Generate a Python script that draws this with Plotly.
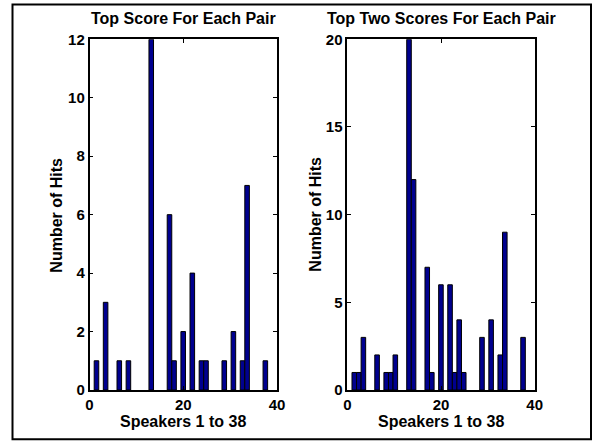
import plotly.graph_objects as go

# ---- data ----
speakers = list(range(1, 39))
top1_speakers = [1, 3, 6, 8, 13, 17, 18, 20, 22, 24, 25, 29, 31, 33, 34, 38]
top1_counts   = [1, 3, 1, 1, 12, 6, 1, 2, 4, 1, 1, 1, 2, 1, 7, 1]
top2_speakers = [1, 2, 3, 6, 8, 9, 10, 13, 14, 17, 18, 20, 22, 23, 24, 25, 29, 31, 33, 34, 38]
top2_counts   = [1, 1, 3, 2, 1, 1, 2, 20, 12, 7, 1, 6, 6, 1, 4, 1, 3, 4, 2, 9, 3]
titles = ["Top Score For Each Pair", "Top Two Scores For Each Pair"]
x_label = "Speakers 1 to 38"
y_label = "Number of Hits"
x_ticks = [0, 20, 40]
y_ticks_left = [0, 2, 4, 6, 8, 10, 12]
y_ticks_right = [0, 5, 10, 15, 20]

# histogram bins: 38 equal bins spanning speakers 1..38
n_bins = len(speakers)
bin_w = (max(speakers) - min(speakers)) / n_bins


def centers(sp):
    return [min(speakers) + (s - 0.5) * bin_w for s in sp]


W, H = 593, 441
FONT = "Liberation Sans, Arial, sans-serif"
BAR = "rgb(0,0,143)"

fig = go.Figure()
fig.add_trace(go.Bar(x=centers(top1_speakers), y=top1_counts, width=bin_w,
                     marker=dict(color=BAR, line=dict(color="black", width=1)),
                     xaxis="x", yaxis="y", showlegend=False, hoverinfo="skip"))
fig.add_trace(go.Bar(x=centers(top2_speakers), y=top2_counts, width=bin_w,
                     marker=dict(color=BAR, line=dict(color="black", width=1)),
                     xaxis="x2", yaxis="y2", showlegend=False, hoverinfo="skip"))

ydom = [1 - 390 / H, 1 - 39.3 / H]
xd1 = [89.5 / W, 277 / W]
xd2 = [347.3 / W, 534.7 / W]

ax_common = dict(showline=True, linecolor="black", linewidth=1.5, mirror="ticks",
                 ticks="inside", ticklen=4, tickcolor="black", tickwidth=1,
                 showgrid=False, zeroline=False, automargin=False,
                 tickfont=dict(family=FONT, size=15, color="black", weight="bold"))

fig.update_layout(
    width=W, height=H,
    margin=dict(l=0, r=0, t=0, b=0, pad=0, autoexpand=False),
    paper_bgcolor="white", plot_bgcolor="white",
    font=dict(family=FONT, color="black"),
    xaxis=dict(domain=xd1, range=[0, 40], tickvals=x_ticks, anchor="y", **ax_common),
    yaxis=dict(domain=ydom, range=[0, 12], tickvals=y_ticks_left, anchor="x", **ax_common),
    xaxis2=dict(domain=xd2, range=[0, 40], tickvals=x_ticks, anchor="y2", **ax_common),
    yaxis2=dict(domain=ydom, range=[0, 20], tickvals=y_ticks_right, anchor="x2", **ax_common),
    shapes=[dict(type="rect", xref="paper", yref="paper",
                 x0=12.5 / W, x1=591 / W, y0=1 - 439.3 / H, y1=1 - 4.5 / H,
                 line=dict(color="black", width=2), fillcolor="rgba(0,0,0,0)")],
)

ann = []
for dom, t, ylx in [(xd1, titles[0], 57 / W), (xd2, titles[1], 316 / W)]:
    cx = (dom[0] + dom[1]) / 2
    ann.append(dict(text="<b>%s</b>" % t, x=cx, y=1 - 18 / H, xref="paper", yref="paper",
                    showarrow=False, xanchor="center", yanchor="middle",
                    font=dict(family=FONT, size=16, color="black")))
    ann.append(dict(text="<b>%s</b>" % x_label, x=cx, y=1 - 421 / H, xref="paper", yref="paper",
                    showarrow=False, xanchor="center", yanchor="middle",
                    font=dict(family=FONT, size=16, color="black")))
    ann.append(dict(text="<b>%s</b>" % y_label, x=ylx, y=(ydom[0] + ydom[1]) / 2,
                    xref="paper", yref="paper", textangle=-90,
                    showarrow=False, xanchor="center", yanchor="middle",
                    font=dict(family=FONT, size=16, color="black")))
fig.update_layout(annotations=ann)

fig.write_html("out.html", config={"displayModeBar": False},
               post_script="document.body.style.margin='0';")
